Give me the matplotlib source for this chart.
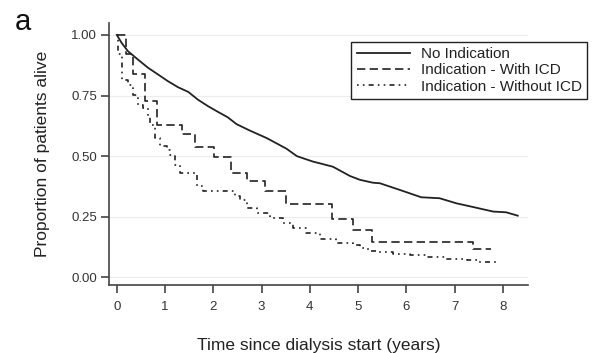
import matplotlib
matplotlib.use("Agg")
import matplotlib.pyplot as plt

plt.rcParams['font.family'] = ['Liberation Sans', 'DejaVu Sans']

# No Indication (solid)
no_ind_t = [0, 0.1, 0.23, 0.44, 0.65, 0.86, 1.06, 1.27, 1.48, 1.68, 1.89, 2.1, 2.3, 2.48,
            2.76, 3.11, 3.52, 3.73, 3.86, 4.07, 4.21, 4.48, 4.83, 5.04, 5.31, 5.45, 5.87,
            6.31, 6.69, 7.04, 7.38, 7.8, 8.07, 8.31]
no_ind_s = [1.0, 0.967, 0.933, 0.898, 0.864, 0.836, 0.809, 0.784, 0.765, 0.733, 0.706, 0.682,
            0.66, 0.632, 0.605, 0.574, 0.53, 0.50, 0.491, 0.477, 0.47, 0.456, 0.418, 0.402,
            0.39, 0.388, 0.36, 0.33, 0.326, 0.305, 0.29, 0.271, 0.268, 0.254]

# Indication - With ICD (dashed)
icd_t = [0, 0.2, 0.33, 0.59, 0.84, 1.35, 1.62, 2.01, 2.36, 2.69, 3.08, 3.5, 4.47, 4.9,
         5.28, 7.38, 7.76]
icd_s = [1.0, 0.92, 0.84, 0.729, 0.63, 0.59, 0.536, 0.497, 0.432, 0.397, 0.356, 0.301,
         0.241, 0.195, 0.144, 0.117, 0.117]

# Indication - Without ICD (dash-dot)
noicd_t = [0, 0.03, 0.1, 0.23, 0.34, 0.44, 0.54, 0.65, 0.68, 0.79, 0.89, 1.03, 1.1, 1.2,
           1.3, 1.66, 1.79, 2.45, 2.55, 2.69, 2.9, 3.17, 3.45, 3.66, 3.93, 4.21, 4.55,
           4.9, 5.04, 5.21, 5.38, 5.73, 6.07, 6.42, 6.83, 7.25, 7.49, 7.94]
noicd_s = [1.0, 0.92, 0.816, 0.795, 0.754, 0.712, 0.699, 0.664, 0.63, 0.575, 0.541, 0.527,
           0.506, 0.465, 0.43, 0.376, 0.355, 0.336, 0.319, 0.285, 0.264, 0.243, 0.223,
           0.202, 0.182, 0.157, 0.14, 0.133, 0.12, 0.11, 0.106, 0.096, 0.092, 0.082,
           0.074, 0.071, 0.064, 0.062]

labels = ["No Indication", "Indication - With ICD", "Indication - Without ICD"]
y_ticks = [0.0, 0.25, 0.5, 0.75, 1.0]
x_ticks = [0, 1, 2, 3, 4, 5, 6, 7, 8]

ink = "#222222"
axc = "#444444"

fig = plt.figure(figsize=(6.08, 3.53), dpi=100)
ax = fig.add_axes([0.18, 0.192, 0.689, 0.742])

for y in y_ticks:
    ax.axhline(y, color="#ececec", lw=0.8, zorder=0)

ax.plot(no_ind_t, no_ind_s, color=ink, lw=1.3, label=labels[0])
ax.plot(icd_t, icd_s, color=ink, lw=1.2, drawstyle="steps-post",
        linestyle=(0, (5, 2.6)), label=labels[1])
ax.plot(noicd_t, noicd_s, color=ink, lw=1.2, drawstyle="steps-post",
        linestyle=(0, (1, 2.5, 1, 2.5, 3, 2.5)), label=labels[2])

ax.set_xlim(-0.153, 8.53)
ax.set_ylim(-0.033, 1.048)
ax.set_xticks(x_ticks)
ax.set_yticks(y_ticks)
ax.set_yticklabels(["0.00", "0.25", "0.50", "0.75", "1.00"])

for s in ["top", "right"]:
    ax.spines[s].set_visible(False)
for s in ["left", "bottom"]:
    ax.spines[s].set_color(axc)
    ax.spines[s].set_linewidth(1.2)
ax.tick_params(direction="out", length=6, width=1.2, color=axc,
               labelsize=9.5, labelcolor="#333333", pad=3)
ax.tick_params(axis="x", pad=5)

ax.set_xlabel("Time since dialysis start (years)", fontsize=12.5, color="#222222", labelpad=18)
ax.set_ylabel("Proportion of patients alive", fontsize=12.5, color="#222222", labelpad=15)

leg = ax.legend(loc="upper right", bbox_to_anchor=(0.966, 0.882),
                bbox_transform=fig.transFigure, borderaxespad=0, fontsize=11,
                frameon=True, fancybox=False, framealpha=1, edgecolor="#222222",
                handlelength=3.5, handletextpad=0.7, labelspacing=0.15,
                borderpad=0.35)
leg.get_frame().set_linewidth(1.0)
for t in leg.get_texts():
    t.set_color("#222222")

fig.text(0.024, 0.915, "a", fontsize=21, color="#111111", va="baseline", ha="left")

fig.savefig("out.png", dpi=100)
